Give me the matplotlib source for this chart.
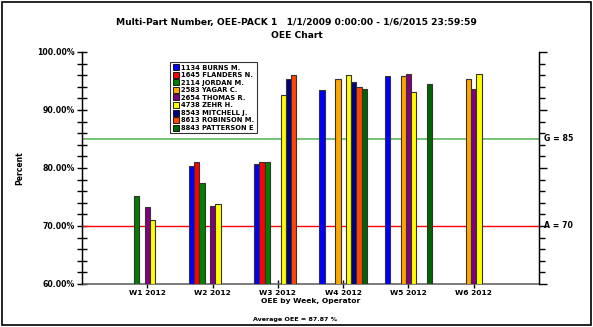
import matplotlib.pyplot as plt
import numpy as np

weeks = ['W1 2012', 'W2 2012', 'W3 2012', 'W4 2012', 'W5 2012', 'W6 2012']
operators = ['1134 BURNS M.', '1645 FLANDERS N.', '2114 JORDAN M.', '2583 YAGAR C.',
             '2654 THOMAS R.', '4738 ZEHR H.', '8543 MITCHELL J.', '8613 ROBINSON M.',
             '8843 PATTERSON E']
colors = ['#0000ff', '#ff0000', '#008000', '#ffa500', '#800080', '#ffff00',
          '#000080', '#ff4500', '#006400']

# OEE % per operator, per week (None = no bar)
burns = [None, 80.3, 80.7, 93.5, 95.9, None]
flanders = [None, 81.0, 81.1, None, None, None]
jordan = [75.2, 77.4, 81.1, None, None, None]
yagar = [None, None, None, 95.4, 95.9, 95.3]
thomas = [73.2, 73.4, None, None, 96.2, 93.6]
zehr = [71.0, 73.8, 92.5, 96.0, 93.1, 96.2]
mitchell = [None, None, 95.3, 94.8, None, None]
robinson = [None, None, 96.0, 94.0, None, None]
patterson = [None, None, None, 93.7, 94.4, None]
series = [burns, flanders, jordan, yagar, thomas, zehr, mitchell, robinson, patterson]

goal = 85
alarm = 70
avg_oee = 87.87

fig = plt.figure(figsize=(5.93, 3.27), dpi=100)
ax = fig.add_axes([0.1383, 0.1315, 0.7707, 0.7095])

w = 0.081
x = np.arange(1, len(weeks) + 1)
handles = []
for i, (vals, c) in enumerate(zip(series, colors)):
    off = (i - 4) * w
    xs = [x[j] + off for j, v in enumerate(vals) if v is not None]
    hs = [v - 60 for v in vals if v is not None]
    ax.bar(xs, hs, width=w, bottom=60, color=c, edgecolor='#333333', linewidth=0.8, zorder=3)
    handles.append(plt.Rectangle((0, 0), 1, 1, facecolor=c, edgecolor='black', linewidth=0.6))

ax.axhline(goal, color='#5cb85c', linewidth=1.2, zorder=2)
ax.axhline(alarm, color='#ff0000', linewidth=1.0, zorder=2)

ax.set_xlim(0, 7)
ax.set_ylim(60, 100)
ax.set_xticks(x)
ax.set_xticklabels(weeks, fontsize=5.4, fontweight='bold')
ax.set_yticks(np.arange(60, 101, 10))
ax.set_yticklabels(['%.2f%%' % v for v in np.arange(60, 101, 10)], fontsize=5.6, fontweight='bold')
ax.set_yticks(np.arange(60, 101, 2), minor=True)
ax.tick_params(axis='y', direction='inout', length=6.5, width=1, pad=2)
ax.tick_params(axis='y', which='minor', direction='inout', length=6.5, width=1)
ax.tick_params(axis='x', direction='inout', length=6, width=1, pad=1.5)

ax.spines['top'].set_visible(False)
ax.spines['bottom'].set_color('#666666')
ax.spines['bottom'].set_linewidth(1.2)
ax.spines['left'].set_linewidth(1)
ax.spines['right'].set_linewidth(1)

ax2 = ax.twinx()
ax2.set_ylim(60, 100)
ax2.set_yticks(np.arange(60, 101, 10))
ax2.set_yticklabels([])
ax2.set_yticks(np.arange(60, 101, 2), minor=True)
ax2.tick_params(axis='y', direction='out', length=5.5, width=1)
ax2.tick_params(axis='y', which='minor', direction='out', length=4, width=1)
ax2.spines['top'].set_visible(False)
ax2.spines['bottom'].set_visible(False)
ax2.text(7.08, goal, 'G = 85', fontsize=5.6, fontweight='bold', va='center', ha='left')
ax2.text(7.08, alarm, 'A = 70', fontsize=5.6, fontweight='bold', va='center', ha='left')

ax.set_ylabel('Percent', fontsize=5.5, fontweight='bold', labelpad=9)
ax.set_xlabel('OEE by Week, Operator', fontsize=5.4, fontweight='bold', labelpad=1)

leg = ax.legend(handles, operators, loc='upper left', bbox_to_anchor=(0.193, 0.957),
                prop={'size': 4.85, 'weight': 'bold'}, frameon=True, fancybox=False,
                handlelength=0.9, handleheight=1.0, handletextpad=0.4, labelspacing=0.18,
                borderpad=0.35, borderaxespad=0)
leg.get_frame().set_edgecolor('black')
leg.get_frame().set_linewidth(0.8)
leg.set_zorder(5)

fig.text(0.5, 0.931, 'Multi-Part Number, OEE-PACK 1   1/1/2009 0:00:00 - 1/6/2015 23:59:59',
         ha='center', va='center', fontsize=6.6, fontweight='bold')
fig.text(0.5, 0.89, 'OEE Chart', ha='center', va='center', fontsize=6.6, fontweight='bold')
fig.text(0.497, 0.022, 'Average OEE = %.2f %%' % avg_oee, ha='center', va='center',
         fontsize=4.6, fontweight='bold')

border = plt.Rectangle((0.004, 0.006), 0.992, 0.988, transform=fig.transFigure,
                       fill=False, edgecolor='black', linewidth=1.2)
fig.patches.append(border)

fig.savefig('out.png', dpi=100)
